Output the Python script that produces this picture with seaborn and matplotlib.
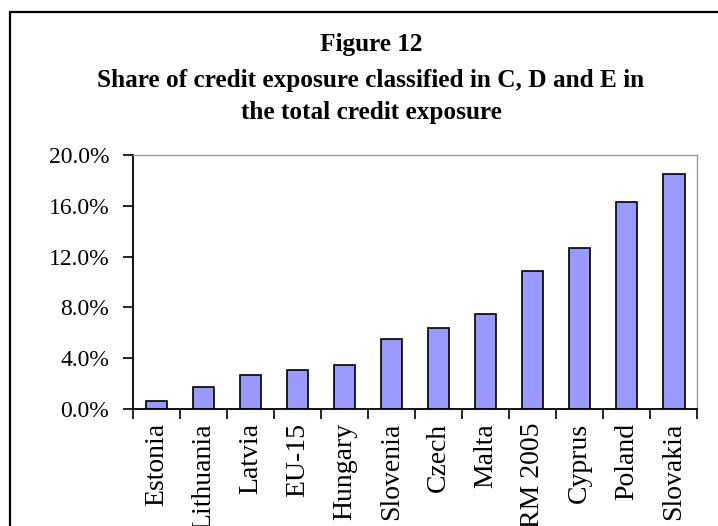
import matplotlib
matplotlib.use("Agg")
import matplotlib.pyplot as plt
import matplotlib.ticker as mticker
from matplotlib.patches import Rectangle
import seaborn as sns
import pandas as pd

# Share of C, D and E classified exposure, in percent
countries = ["Estonia", "Lithuania", "Latvia", "EU-15", "Hungary", "Slovenia",
             "Czech", "Malta", "RM 2005", "Cyprus", "Poland", "Slovakia"]
share = [0.6, 1.7, 2.7, 3.1, 3.5, 5.5, 6.4, 7.5, 10.9, 12.7, 16.3, 18.5]
y_ticks = [0, 4, 8, 12, 16, 20]
title_lines = ["Figure 12",
               "Share of credit exposure classified in C, D and E in",
               "the total credit exposure"]

sns.set_theme(style="white")
plt.rcParams["font.family"] = ["Liberation Serif", "DejaVu Serif"]

df = pd.DataFrame({"country": countries, "share": share})

fig = plt.figure(figsize=(7.18, 5.26), dpi=100)
ax = fig.add_axes([0.1852, 0.2224, 0.9714 - 0.1852, 0.7053 - 0.2224])

sns.barplot(data=df, x="country", y="share", color="#9999FF", saturation=1,
            edgecolor="black", linewidth=1.2, width=0.45, ax=ax)

ax.set_ylim(0, 20)
ax.set_xlim(-0.5, len(countries) - 0.5)
ax.set_yticks(y_ticks)
ax.yaxis.set_major_formatter(mticker.FuncFormatter(lambda v, p: f"{v:.1f}%"))
ax.set_xlabel("")
ax.set_ylabel("")

# category labels centred, tick marks on the category boundaries
ax.set_xticks(range(len(countries)))
ax.set_xticklabels(countries, rotation=90, fontsize=20)
ax.set_xticks([i - 0.5 for i in range(len(countries) + 1)], minor=True)
ax.tick_params(axis="x", which="major", length=0, pad=10)
ax.tick_params(axis="x", which="minor", length=7, width=1.2, color="black",
               direction="out", bottom=True)
ax.tick_params(axis="y", which="major", length=7, width=1.2, color="black",
               direction="out", left=True, labelsize=17, pad=10)

for side in ("left", "bottom"):
    ax.spines[side].set_color("black")
    ax.spines[side].set_linewidth(1.3)
for side in ("top", "right"):
    ax.spines[side].set_visible(True)
    ax.spines[side].set_color("#999999")
    ax.spines[side].set_linewidth(1.0)

for lab in ax.get_xticklabels() + ax.get_yticklabels():
    lab.set_color("black")

# title block
for line, ypx in zip(title_lines, [45, 80, 113]):
    fig.text(371 / 718, 1 - ypx / 526, line, ha="center", va="center",
             fontsize=18.2, fontweight="bold", color="black")

# outer frame around the whole chart
fig.patches.append(Rectangle((9.5 / 718, 0 - 0.05), 1.1, 1 - 11.5 / 526 + 0.05,
                             transform=fig.transFigure, fill=False,
                             edgecolor="black", linewidth=1.6))

fig.savefig("out.png", dpi=100)
